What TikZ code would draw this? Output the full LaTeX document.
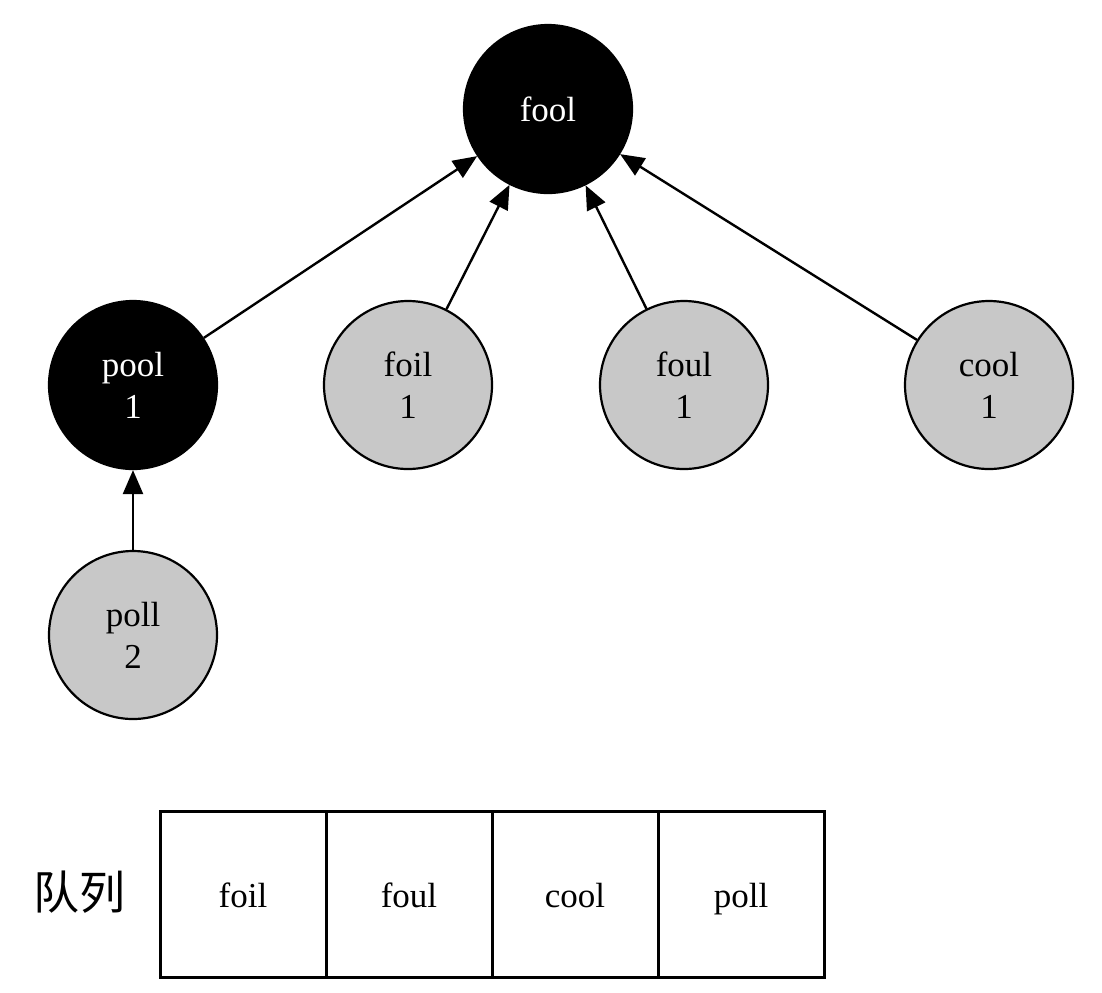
\documentclass[tikz,border=0pt]{standalone}
\usepackage{fontspec}
\setmainfont{Liberation Serif}
\newfontfamily\cjk{Noto Sans CJK SC}
\usetikzlibrary{arrows.meta}
\definecolor{nodegray}{RGB}{200,200,200}
\begin{document}
\begin{tikzpicture}[x=0.5pt,y=-0.5pt,
	word/.style={circle,draw=black,line width=1.1pt,minimum size=84pt,inner sep=0pt,align=center,font=\fontsize{17.5}{21}\selectfont},
	seen/.style={word,fill=black,text=white},
	open/.style={word,fill=nodegray},
	cell/.style={draw,line width=1.5pt,minimum width=83pt,minimum height=83pt,inner sep=0pt,text height=14.5pt,text depth=1.5pt,font=\fontsize{17.5}{21}\selectfont},
	edge/.style={-{Triangle[length=12pt,width=10pt]},line width=1.2pt}]
			\useasboundingbox (0,0) rectangle (1102,992);
			\node[seen] (fool) at (548,109) {fool};
			\node[seen] (pool) at (133,385) {pool\\1};
			\node[open] (foil) at (408,385) {foil\\1};
			\node[open] (foul) at (684,385) {foul\\1};
			\node[open] (cool) at (989,385) {cool\\1};
			\node[open] (poll) at (133,635) {poll\\2};
			\foreach \n in {pool,foil,foul,cool}{
				\draw [edge] (\n)--(fool);
			}
			\draw [edge] (poll)--(pool);
			\node[font=\cjk\fontsize{23}{23}\selectfont] (queue) at (79,892) {队列};
			\foreach \i/\w in {1/foil,2/foul,3/cool,4/poll}{
				\node[cell] (q\i) at (160+166*\i-83,894) {\w};
			}
			\end{tikzpicture}
\end{document}
